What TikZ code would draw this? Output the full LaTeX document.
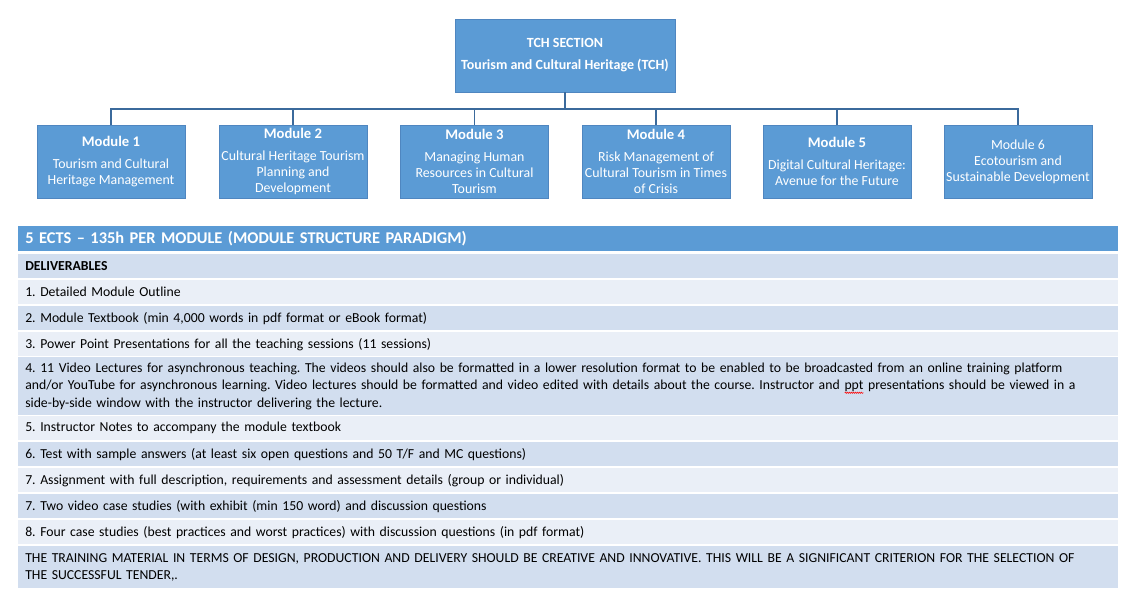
\documentclass[tikz,border=0pt]{standalone}
\usepackage{fontspec}
\setmainfont{Carlito}
\usetikzlibrary{positioning,decorations.pathmorphing}
\definecolor{boxblue}{HTML}{5B9BD5}
\definecolor{boxedge}{HTML}{4F86C0}
\definecolor{linkblue}{HTML}{3B6A9C}
\definecolor{rowdark}{HTML}{D2DEEF}
\definecolor{rowlight}{HTML}{EAEFF7}
\frenchspacing
\tikzset{
  modbox/.style={rectangle, fill=boxblue, draw=boxedge, line width=0.6pt,
    minimum width=111pt, minimum height=54.75pt, inner sep=1pt,
    text=white, align=center, font=\fontsize{10.4}{12}\selectfont},
  topbox/.style={modbox, minimum width=165pt, font=\fontsize{10.5}{12}\selectfont\bfseries},
  link/.style={draw=linkblue, line width=1pt},
  rowbase/.style={rectangle, anchor=north west, inner xsep=5.25pt, inner ysep=0pt,
    text width=814.5pt, align=left, font=\fontsize{10.3}{13.2}\selectfont, text=black},
  rowd/.style={rowbase, fill=rowdark},
  rowl/.style={rowbase, fill=rowlight},
  headrow/.style={rowbase, fill=boxblue, text=white, font=\fontsize{12.3}{14}\selectfont\bfseries}
}
\newcommand{\mtitle}[1]{{\fontsize{11}{12}\selectfont\bfseries #1}\\[4.5pt]}
\newsavebox\spellbox
\newcommand{\spellmark}[1]{\sbox\spellbox{#1}\rlap{\tikz[baseline=0pt]\draw[red, line width=0.35pt, decorate, decoration={zigzag, amplitude=0.5pt, segment length=1.5pt}] (0pt,-2.2pt) -- (\wd\spellbox,-2.2pt);}\usebox\spellbox}
\begin{document}
\begin{tikzpicture}[x=0.75pt,y=-0.75pt]
\useasboundingbox[fill=white] (0,0) rectangle (1131,592);
% top box
\node[topbox] (top) at (565,55.5) {TCH SECTION\\[4.5pt]Tourism and Cultural Heritage (TCH)};
% modules
\node[modbox] (m1) at (111,161.5) {\mtitle{Module 1}Tourism and Cultural\\Heritage Management};
\node[modbox] (m2) at (293,161.5) {\mtitle{Module 2}Cultural Heritage Tourism\\Planning and\\Development};
\node[modbox] (m3) at (474.5,161.5) {\mtitle{Module 3}Managing Human\\Resources in Cultural\\Tourism};
\node[modbox] (m4) at (656,161.5) {\mtitle{Module 4}Risk Management of\\Cultural Tourism in Times\\of Crisis};
\node[modbox] (m5) at (837,161.5) {\mtitle{Module 5}Digital Cultural Heritage:\\Avenue for the Future};
\node[modbox] (m6) at (1018,161.5) {Module 6\\Ecotourism and\\Sustainable Development};
% connectors
\coordinate (bus) at (565,109);
\draw[link] (top.south) -- (bus);
\draw[link] (m1.north) -- (m1.north |- bus) -- (m6.north |- bus) -- (m6.north);
\foreach \m in {m2,m3,m4,m5}{\draw[link] (\m.north) -- (\m.north |- bus);}
% table
\node[headrow, minimum height=18.75pt] (h) at (18,226) {5 ECTS – 135h PER MODULE (MODULE STRUCTURE PARADIGM)};
\node[rowd, minimum height=18pt] (d0) at (18,254) {\textbf{DELIVERABLES}};
\node[rowl, minimum height=18pt] (d1) at (18,280) {1. Detailed Module Outline};
\node[rowd, minimum height=18pt] (d2) at (18,306) {2. Module Textbook (min 4,000 words in pdf format or eBook format)};
\node[rowl, minimum height=18pt] (d3) at (18,332) {3. Power Point Presentations for all the teaching sessions (11 sessions)};
\node[rowd, minimum height=43.5pt] (d4) at (18,357) {4. 11 Video Lectures for asynchronous teaching. The videos should also be formatted in a lower resolution format to be enabled to be broadcasted from an online training platform\\and/or YouTube for asynchronous learning. Video lectures should be formatted and video edited with details about the course. Instructor and \spellmark{ppt} presentations should be viewed in a\\side-by-side window with the instructor delivering the lecture.};
\node[rowl, minimum height=18pt] (d5) at (18,416) {5. Instructor Notes to accompany the module textbook};
\node[rowd, minimum height=18pt] (d6) at (18,442) {6. Test with sample answers (at least six open questions and 50 T/F and MC questions)};
\node[rowl, minimum height=18pt] (d7) at (18,468) {7. Assignment with full description, requirements and assessment details (group or individual)};
\node[rowd, minimum height=18pt] (d7b) at (18,494) {7. Two video case studies (with exhibit (min 150 word) and discussion questions};
\node[rowl, minimum height=18pt] (d8) at (18,520) {8. Four case studies (best practices and worst practices) with discussion questions (in pdf format)};
\node[rowd, minimum height=31.5pt] (d9) at (18,546) {THE TRAINING MATERIAL IN TERMS OF DESIGN, PRODUCTION AND DELIVERY SHOULD BE CREATIVE AND INNOVATIVE. THIS WILL BE A SIGNIFICANT CRITERION FOR THE SELECTION OF\\THE SUCCESSFUL TENDER,.};
\end{tikzpicture}
\end{document}
